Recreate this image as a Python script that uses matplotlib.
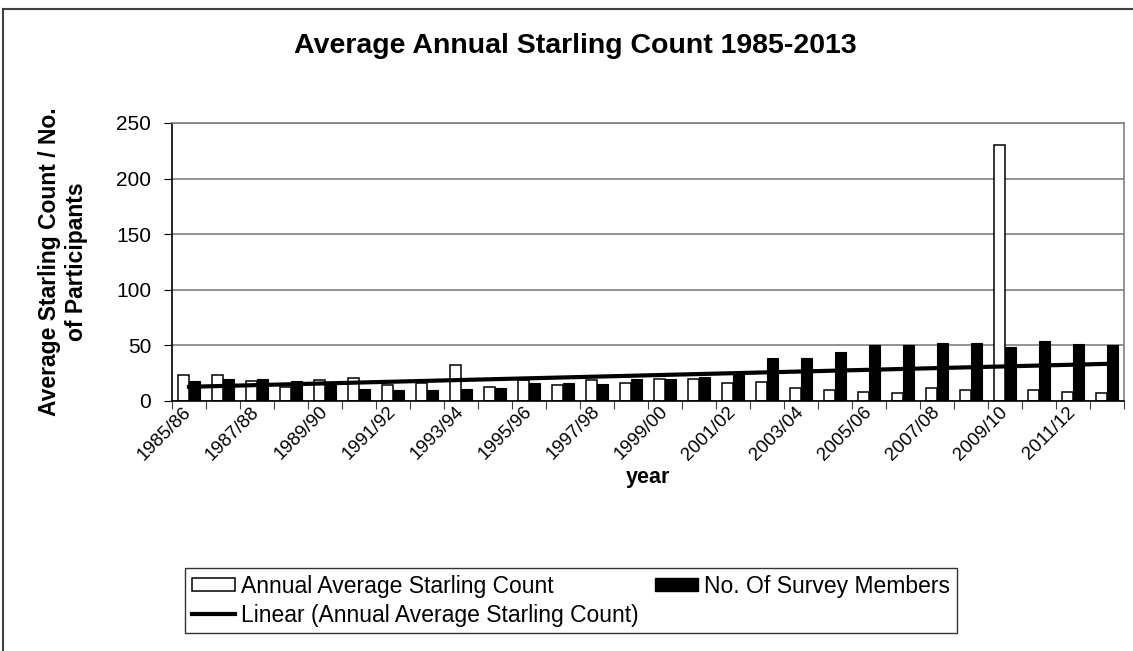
#!/usr/bin/env python3
"""Average annual starling count chart (Excel-style clustered bars + trend)."""

import matplotlib
matplotlib.use("Agg")
import matplotlib.pyplot as plt
import numpy as np
from matplotlib.lines import Line2D
from matplotlib.patches import Patch

plt.rcParams["font.family"] = ["Liberation Sans", "DejaVu Sans"]

# ---------------------------------------------------------------------------
# Data
# ---------------------------------------------------------------------------

seasons = [
    "1985/86", "1986/87", "1987/88", "1988/89", "1989/90", "1990/91",
    "1991/92", "1992/93", "1993/94", "1994/95", "1995/96", "1996/97",
    "1997/98", "1998/99", "1999/00", "2000/01", "2001/02", "2002/03",
    "2003/04", "2004/05", "2005/06", "2006/07", "2007/08", "2008/09",
    "2009/10", "2010/11", "2011/12", "2012/13",
]
avg_count = [
    23, 23, 18, 13, 19, 21, 14, 16, 32, 13, 19, 14, 19, 16,
    19.5, 19.5, 16, 17.5, 11.5, 10, 8.5, 7, 11.5, 10, 230, 10, 8.5, 7,
]
survey_members = [
    18, 19.5, 19.5, 18, 17, 11, 10, 10, 11, 11.5, 16.5, 16.5, 15, 19.5,
    19.5, 21.5, 26, 38.5, 38.5, 44, 50, 50, 52, 52, 49, 54, 51, 50,
]

TITLE = "Average Annual Starling Count 1985-2013"
YLABEL = "Average Starling Count / No.\nof Participants"
XLABEL = "year"

W, H = 1133, 651


def main() -> None:
    fig = plt.figure(figsize=(W / 100, H / 100), dpi=100)
    fig.patch.set_facecolor("white")

    # outer chart-area border (cut off at right and bottom)
    fig.add_artist(Line2D([3 / W, 3 / W], [0, 1 - 9 / H], color="#404040", lw=1.5))
    fig.add_artist(Line2D([3 / W, 1], [1 - 9 / H, 1 - 9 / H], color="#404040", lw=1.5))

    left, right, top, bottom = 172, 1124, 123, 401
    ax = fig.add_axes([left / W, 1 - bottom / H, (right - left) / W, (bottom - top) / H])

    x = np.arange(len(seasons))
    w = 1 / 3
    ax.bar(x - w / 2, avg_count, w, color="white", edgecolor="black", linewidth=1.1, zorder=2)
    ax.bar(x + w / 2, survey_members, w, color="black", edgecolor="black", linewidth=0.8, zorder=2)

    # linear trend of the annual average count
    slope, icpt = np.polyfit(x, avg_count, 1)
    ax.plot(x, slope * x + icpt, color="black", linewidth=3, zorder=3)

    ax.set_xlim(-0.5, len(seasons) - 0.5)
    ax.set_ylim(0, 250)
    ax.set_yticks(range(0, 251, 50))
    ax.yaxis.grid(True, color="#808080", linewidth=1.2, zorder=0)
    ax.set_axisbelow(True)

    # category boundary ticks, labels on every other category
    ax.set_xticks(np.arange(-0.5, len(seasons), 1))
    ax.set_xticklabels([])
    ax.tick_params(axis="x", which="major", length=6, color="#404040", direction="out")
    ax.set_xticks(x[::2], minor=True)
    ax.set_xticklabels(seasons[::2], minor=True, rotation=45, ha="right",
                       va="center", rotation_mode="anchor", fontsize=13.5)
    ax.tick_params(axis="x", which="minor", length=0, pad=6)
    ax.tick_params(axis="y", length=6, direction="out", labelsize=15, pad=9)

    for side in ("left", "bottom"):
        ax.spines[side].set_color("black")
        ax.spines[side].set_linewidth(1.2)
    for side in ("top", "right"):
        ax.spines[side].set_color("#808080")
        ax.spines[side].set_linewidth(1.2)

    fig.text(575 / W, 1 - 46 / H, TITLE, ha="center", va="center",
             fontsize=20.5, fontweight="bold")
    fig.text(63 / W, 1 - 262 / H, YLABEL, ha="center", va="center", rotation=90,
             fontsize=16.5, fontweight="bold", linespacing=1.2)
    fig.text(648 / W, 1 - 478 / H, XLABEL, ha="center", va="center",
             fontsize=15.5, fontweight="bold")

    handles = [
        Patch(facecolor="white", edgecolor="black", linewidth=1.1),
        Line2D([], [], color="black", linewidth=3),
        Patch(facecolor="black", edgecolor="black"),
    ]
    labels = [
        "Annual Average Starling Count",
        "Linear (Annual Average Starling Count)",
        "No. Of Survey Members",
    ]
    leg = fig.legend(handles, labels, loc="upper left",
                     bbox_to_anchor=(185 / W, 1 - 568 / H), ncol=2,
                     fontsize=16.5, frameon=True, fancybox=False,
                     edgecolor="black", borderaxespad=0, borderpad=0.3,
                     handlelength=1.9, handleheight=0.5, handletextpad=0.25,
                     columnspacing=0.7, labelspacing=0.25)
    leg.get_frame().set_linewidth(1.0)

    fig.savefig("out.png", dpi=100, facecolor="white")
    plt.close(fig)


if __name__ == "__main__":
    main()
